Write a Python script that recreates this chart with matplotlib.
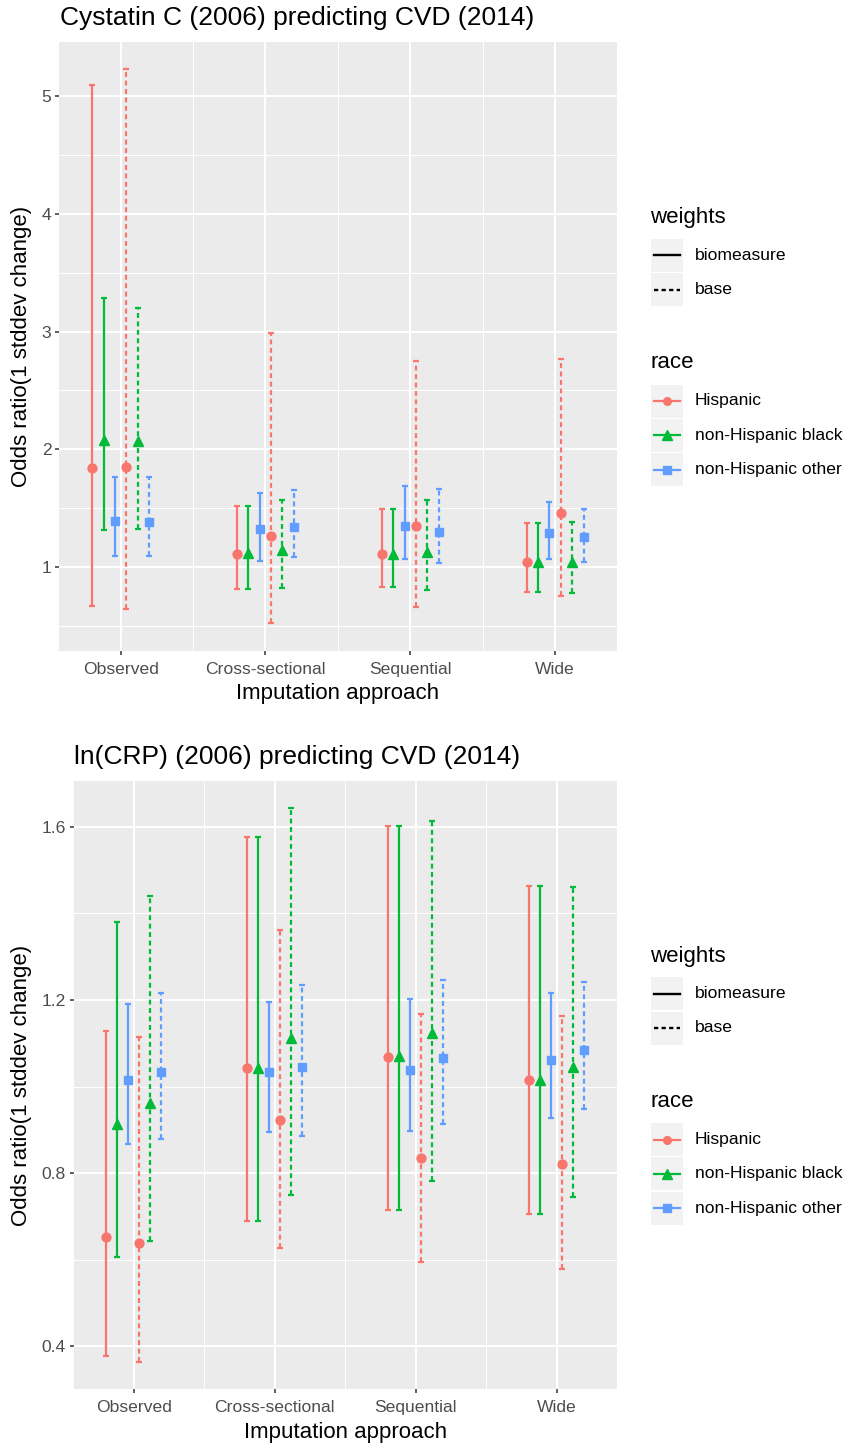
import matplotlib
matplotlib.use("Agg")
import matplotlib.pyplot as plt
from matplotlib.lines import Line2D
from matplotlib.patches import Rectangle
import numpy as np

plt.rcParams['font.family'] = ['Liberation Sans', 'DejaVu Sans']

# ---------------- data ----------------
categories = ["Observed", "Cross-sectional", "Sequential", "Wide"]
races = ["Hispanic", "non-Hispanic black", "non-Hispanic other"]
weights = ["biomeasure", "base"]
race_colors = ["#F8766D", "#00BA38", "#619CFF"]
race_markers = ["o", "^", "s"]

# Cystatin C panel (rows: races, cols: categories)
cys_bio_est = [[1.84, 1.11, 1.11, 1.04], [2.08, 1.12, 1.11, 1.04], [1.39, 1.32, 1.35, 1.29]]
cys_bio_lo = [[0.67, 0.81, 0.83, 0.79], [1.31, 0.81, 0.83, 0.79], [1.09, 1.05, 1.07, 1.07]]
cys_bio_hi = [[5.10, 1.52, 1.49, 1.37], [3.29, 1.52, 1.49, 1.37], [1.76, 1.63, 1.69, 1.55]]
cys_base_est = [[1.85, 1.26, 1.35, 1.46], [2.07, 1.14, 1.13, 1.04], [1.38, 1.34, 1.30, 1.25]]
cys_base_lo = [[0.64, 0.52, 0.66, 0.75], [1.32, 0.82, 0.80, 0.78], [1.09, 1.08, 1.03, 1.04]]
cys_base_hi = [[5.23, 2.99, 2.75, 2.77], [3.20, 1.57, 1.57, 1.38], [1.76, 1.65, 1.66, 1.49]]
cys_ticks = [1, 2, 3, 4, 5]
cys_ticklabels = ["1", "2", "3", "4", "5"]

# ln(CRP) panel
crp_bio_est = [[0.652, 1.042, 1.069, 1.015], [0.914, 1.042, 1.070, 1.015], [1.015, 1.034, 1.038, 1.062]]
crp_bio_lo = [[0.379, 0.690, 0.714, 0.706], [0.606, 0.690, 0.714, 0.706], [0.867, 0.895, 0.897, 0.927]]
crp_bio_hi = [[1.127, 1.576, 1.602, 1.462], [1.379, 1.576, 1.602, 1.462], [1.191, 1.196, 1.202, 1.216]]
crp_base_est = [[0.639, 0.923, 0.835, 0.821], [0.963, 1.112, 1.123, 1.045], [1.034, 1.046, 1.065, 1.085]]
crp_base_lo = [[0.365, 0.628, 0.596, 0.579], [0.644, 0.750, 0.782, 0.745], [0.879, 0.885, 0.914, 0.948]]
crp_base_hi = [[1.115, 1.362, 1.167, 1.162], [1.440, 1.642, 1.612, 1.460], [1.216, 1.235, 1.245, 1.241]]
crp_ticks = [0.4, 0.8, 1.2, 1.6]
crp_ticklabels = ["0.4", "0.8", "1.2", "1.6"]

W, H = 847, 1445
fig = plt.figure(figsize=(W / 100, H / 100), dpi=100)

BG = "#EBEBEB"
TICKC = "#4D4D4D"
dash = (0, (2.2, 1.6))
DODGE = 0.47


def fx(px):
    return px / W


def fy(py):
    return 1 - py / H


def panel(rect, title, ests, los, his, ticks, ticklabels, title_x, title_y):
    l, r, t, b = rect
    ax = fig.add_axes([fx(l), fy(b), fx(r) - fx(l), fy(t) - fy(b)])
    ax.set_facecolor(BG)
    for s in ax.spines.values():
        s.set_visible(False)
    x = np.arange(1, len(categories) + 1)
    ngroups = len(weights) * len(races)
    allv = []
    for wi in range(len(weights)):
        for ri in range(len(races)):
            idx = wi * len(races) + ri
            off = (-(ngroups - 1) / 2 + idx) * DODGE / ngroups
            est = np.array(ests[wi][ri])
            lo = np.array(los[wi][ri])
            hi = np.array(his[wi][ri])
            allv += list(lo) + list(hi)
            ms = {"o": 6.4, "^": 7.2, "s": 6.4}[race_markers[ri]]
            eb = ax.errorbar(x + off, est, yerr=[est - lo, hi - est], fmt=race_markers[ri],
                             color=race_colors[ri], ms=ms, elinewidth=1.6,
                             capsize=2.2, capthick=1.6, zorder=3)
            if weights[wi] == "base":
                eb[2][0].set_linestyle(dash)
    vmin, vmax = min(allv), max(allv)
    pad = 0.05 * (vmax - vmin)
    ax.set_xlim(0.577, 4.425)
    ax.set_xticks(x)
    ax.set_xticklabels(categories)
    ax.set_xticks(x[:-1] + 0.5, minor=True)
    ax.set_yticks(ticks)
    ax.set_yticklabels(ticklabels)
    step = ticks[1] - ticks[0]
    minors = np.arange(ticks[0] - step / 2, ticks[-1] + step, step)
    ax.set_yticks(minors, minor=True)
    ax.set_ylim(vmin - pad, vmax + pad)
    ax.grid(which="major", color="white", lw=1.5)
    ax.grid(which="minor", color="white", lw=0.75)
    ax.set_axisbelow(True)
    ax.tick_params(which="major", length=3.2, width=1.1, color="#333333",
                   labelcolor=TICKC, labelsize=12.6, pad=2.5)
    ax.tick_params(axis="x", which="major", pad=4.5)
    ax.tick_params(which="minor", length=0)
    fig.text(fx(title_x), fy(title_y), title, fontsize=19, ha="left", va="center", color="black")
    fig.text(fx((l + r) / 2), fy(b + 43), "Imputation approach", fontsize=16,
             ha="center", va="center", color="black")
    fig.text(fx(22), fy((t + b) / 2), "Odds ratio(1 stddev change)", fontsize=16,
             rotation=90, ha="center", va="center", color="black")
    return ax


def legend(off):
    lg = fig.add_axes([0, 0, 1, 1], zorder=-1)
    lg.set_xlim(0, W)
    lg.set_ylim(H, 0)
    lg.axis("off")
    lx0, lx1 = 651, 683
    lg.text(650, 218 + off, "weights", fontsize=16, ha="left", va="center")
    for i, (wname, ls) in enumerate(zip(weights, ["-", (0, (1.8, 1.4))])):
        cy = 255 + 34.5 * i + off
        lg.add_patch(Rectangle((lx0, cy - 16.5), lx1 - lx0, 33, facecolor="#F2F2F2", edgecolor="none"))
        lg.add_line(Line2D([lx0 + 3, lx1 - 3], [cy, cy], color="black", lw=1.7, ls=ls))
        lg.text(695, cy, wname, fontsize=12.6, ha="left", va="center", color="black")
    lg.text(650, 363 + off, "race", fontsize=16, ha="left", va="center")
    for i, rname in enumerate(races):
        cy = 401 + 34.3 * i + off
        lg.add_patch(Rectangle((lx0, cy - 16.5), lx1 - lx0, 33, facecolor="#F2F2F2", edgecolor="none"))
        lg.add_line(Line2D([lx0 + 3, lx1 - 3], [cy, cy], color=race_colors[i], lw=1.6))
        ms = {"o": 5.5, "^": 6.5, "s": 5.5}[race_markers[i]]
        lg.add_line(Line2D([(lx0 + lx1) / 2], [cy], color=race_colors[i], marker=race_markers[i], ms=ms, lw=0))
        lg.text(695, cy, rname, fontsize=12.6, ha="left", va="center", color="black")


panel((59.3, 616.7, 41.7, 651.0), "Cystatin C (2006) predicting CVD (2014)",
      [cys_bio_est, cys_base_est], [cys_bio_lo, cys_base_lo], [cys_bio_hi, cys_base_hi],
      cys_ticks, cys_ticklabels, 60, 18)
panel((74.0, 616.7, 780.7, 1389.3), "ln(CRP) (2006) predicting CVD (2014)",
      [crp_bio_est, crp_base_est], [crp_bio_lo, crp_base_lo], [crp_bio_hi, crp_base_hi],
      crp_ticks, crp_ticklabels, 74, 757)
legend(0)
legend(738.5)

fig.savefig("out.png", dpi=100, facecolor="white")
